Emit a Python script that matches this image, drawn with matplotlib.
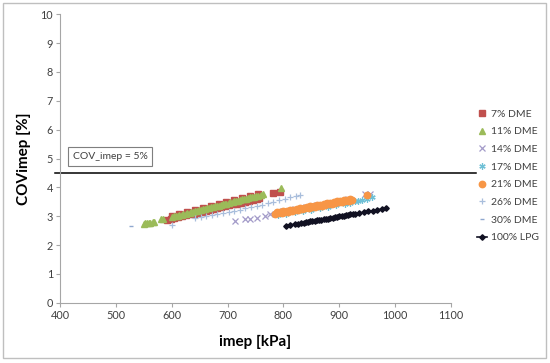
import numpy as np
import matplotlib
matplotlib.use('Agg')
import matplotlib.pyplot as plt
from matplotlib.patches import Rectangle

plt.rcParams['font.family'] = ['Lato', 'DejaVu Sans']

# series (imep kPa, COV %)
dme7_x = [591, 598, 605, 612, 619, 626, 633, 640, 647, 654, 661, 668, 675, 682, 689, 696, 703, 710,
          717, 724, 731, 738, 745, 752, 757,
          600, 614, 628, 642, 656, 670, 684, 698, 712, 726, 740, 754,
          782, 794]
dme7_y = [2.87, 2.90, 2.93, 2.96, 3.00, 3.03, 3.06, 3.09, 3.12, 3.15, 3.19, 3.22, 3.25, 3.28, 3.31, 3.34, 3.38, 3.41,
          3.44, 3.47, 3.50, 3.53, 3.57, 3.60, 3.62,
          3.02, 3.09, 3.15, 3.22, 3.29, 3.36, 3.42, 3.49, 3.56, 3.63, 3.69, 3.76,
          3.80, 3.84]

dme11_x = [550, 553, 556, 559, 562, 566, 569, 580, 585,
           600, 604, 607, 611, 614, 618, 621, 625, 628, 632, 635, 639, 642, 646, 649, 653, 656, 660, 663,
           667, 670, 674, 677, 681, 684, 688, 691, 695, 698, 702, 705, 709,
           712, 716, 719, 723, 726, 730, 733, 737, 740, 744, 747, 751, 754, 760, 764, 795]
dme11_y = [2.74, 2.76, 2.75, 2.77, 2.78, 2.79, 2.80, 2.90, 2.92,
           2.97, 2.99, 3.00, 3.02, 3.04, 3.05, 3.07, 3.09, 3.10, 3.12, 3.14, 3.15, 3.17, 3.19, 3.21, 3.22,
           3.24, 3.26, 3.27, 3.29, 3.31, 3.32, 3.34, 3.36, 3.37, 3.39, 3.41, 3.43, 3.44, 3.46, 3.48, 3.49,
           3.51, 3.53, 3.54, 3.56, 3.58, 3.60, 3.61, 3.63, 3.65, 3.66, 3.68, 3.70, 3.71, 3.74, 3.78, 3.97]

dme14_x = [713, 731, 740, 752, 767, 776, 800, 820, 840, 860, 880, 900, 915, 946, 955]
dme14_y = [2.83, 2.89, 2.91, 2.95, 3.02, 3.07, 3.17, 3.25, 3.32, 3.39, 3.46, 3.53, 3.58, 3.77, 3.77]

dme17_x = [790, 805, 820, 835, 850, 865, 880, 895, 910, 920, 928, 934, 940, 950, 958]
dme17_y = [3.04, 3.08, 3.13, 3.18, 3.23, 3.28, 3.33, 3.38, 3.43, 3.47, 3.51, 3.53, 3.56, 3.61, 3.66]

dme21_x = [785, 791, 797, 803, 809, 815, 821, 827, 833, 839, 845, 851, 857, 863, 869, 875, 881, 887,
           893, 899, 905, 911, 917, 922,
           788, 794, 800, 806, 812, 818, 824, 830, 836, 842, 848, 854, 860, 866, 872, 878, 884, 890,
           896, 902, 908, 914, 920, 949]
dme21_y = [3.08, 3.10, 3.12, 3.14, 3.16, 3.19, 3.21, 3.23, 3.25, 3.27, 3.29, 3.31, 3.33, 3.35, 3.37, 3.40, 3.42, 3.44,
           3.46, 3.48, 3.50, 3.52, 3.54, 3.56,
           3.13, 3.15, 3.17, 3.19, 3.21, 3.23, 3.26, 3.28, 3.30, 3.32, 3.34, 3.36, 3.38, 3.40, 3.42, 3.45, 3.47, 3.49,
           3.51, 3.53, 3.55, 3.57, 3.59, 3.72]

dme26_x = [600, 642, 652, 662, 672, 682, 692, 702, 712, 722, 732, 742, 752, 762, 772, 782, 792, 802, 812, 822, 830]
dme26_y = [2.69, 2.93, 2.96, 2.99, 3.03, 3.07, 3.11, 3.15, 3.19, 3.23, 3.27, 3.31, 3.35, 3.40, 3.45, 3.50, 3.55,
           3.60, 3.65, 3.71, 3.75]

dme30_x = [527]
dme30_y = [2.65]

lpg_x = [804, 812, 820, 826, 832, 836, 840, 844, 848, 852, 856, 860, 864, 868, 872, 876, 880, 884, 888, 892,
         896, 900, 904, 908, 912, 916, 920, 924, 928, 936, 944, 952, 960, 968, 976, 983]
lpg_y = [2.67, 2.70, 2.72, 2.74, 2.76, 2.78, 2.79, 2.80, 2.82, 2.83, 2.84, 2.86, 2.87, 2.88, 2.90, 2.91, 2.92,
         2.94, 2.95, 2.96, 2.98, 2.99, 3.01, 3.02, 3.03, 3.05, 3.06, 3.07, 3.09, 3.11, 3.14, 3.17, 3.19, 3.22,
         3.25, 3.27]

limit_cov = 4.5
limit_label = 'COV_imep = 5%'

fig = plt.figure(figsize=(5.5, 3.63), dpi=100)
ax = fig.add_axes([0.109, 0.166, 0.711, 0.7946])

ax.plot(dme7_x, dme7_y, ls='none', marker='s', ms=3.8, color='#C0504D', label='7% DME')
ax.plot(dme11_x, dme11_y, ls='none', marker='^', ms=4.4, color='#9BBB59', label='11% DME')
ax.plot(dme14_x, dme14_y, ls='none', marker='x', ms=4.2, mew=0.9, color='#A39BC9', label='14% DME')
ax.plot(dme17_x, dme17_y, ls='none', marker=(6, 2, 0), ms=4.5, mew=0.9, color='#6FC0D6', label='17% DME')
ax.plot(dme21_x, dme21_y, ls='none', marker='o', ms=4.6, color='#F79646', label='21% DME')
ax.plot(dme26_x, dme26_y, ls='none', marker='+', ms=4.5, mew=0.9, color='#A9BEDC', label='26% DME')
ax.plot(dme30_x, dme30_y, ls='none', marker='_', ms=3.5, mew=1.0, color='#8FA8CF', label='30% DME')
ax.plot(lpg_x, lpg_y, color='#111122', lw=1.2, marker='D', ms=2.8, label='100% LPG')

ax.plot([392, 1145], [limit_cov, limit_cov], color='black', lw=1.1, clip_on=False, zorder=1)
ax.add_patch(Rectangle((414, 4.74), 151, 0.65, facecolor='white', edgecolor='#7F7F7F', lw=0.8, zorder=3))
ax.text(489.5, 5.065, limit_label, ha='center', va='center', fontsize=7.5, color='#404040', zorder=4)

ax.set_xlim(400, 1100)
ax.set_ylim(0, 10)
ax.set_xticks(range(400, 1101, 100))
ax.set_yticks(range(0, 11))
for s in ['top', 'right']:
    ax.spines[s].set_visible(False)
for s in ['left', 'bottom']:
    ax.spines[s].set_color('#A6A6A6')
    ax.spines[s].set_linewidth(0.8)
ax.tick_params(direction='out', length=3, width=0.8, color='#A6A6A6', labelsize=7.8, labelcolor='#404040', pad=2)

ax.set_xlabel('imep [kPa]', fontsize=11, fontweight='bold', color='black')
ax.set_ylabel('COVimep [%]', fontsize=11, fontweight='bold', color='black')
ax.xaxis.set_label_coords(0.5, -0.11)
ax.yaxis.set_label_coords(-0.075, 0.5)

leg = fig.legend(loc='upper left', bbox_to_anchor=(477 / 550, 1 - 109.5 / 363), frameon=False,
                 fontsize=7.5, handlelength=1.0, handletextpad=0.3, labelspacing=0.8,
                 borderpad=0, borderaxespad=0)
for t in leg.get_texts():
    t.set_color('#404040')

fig.patches.append(Rectangle((0.0055, 0.0146), 0.987, 0.977, transform=fig.transFigure,
                             facecolor='none', edgecolor='#BFBFBF', lw=1.0))

fig.savefig('out.png', dpi=100)
